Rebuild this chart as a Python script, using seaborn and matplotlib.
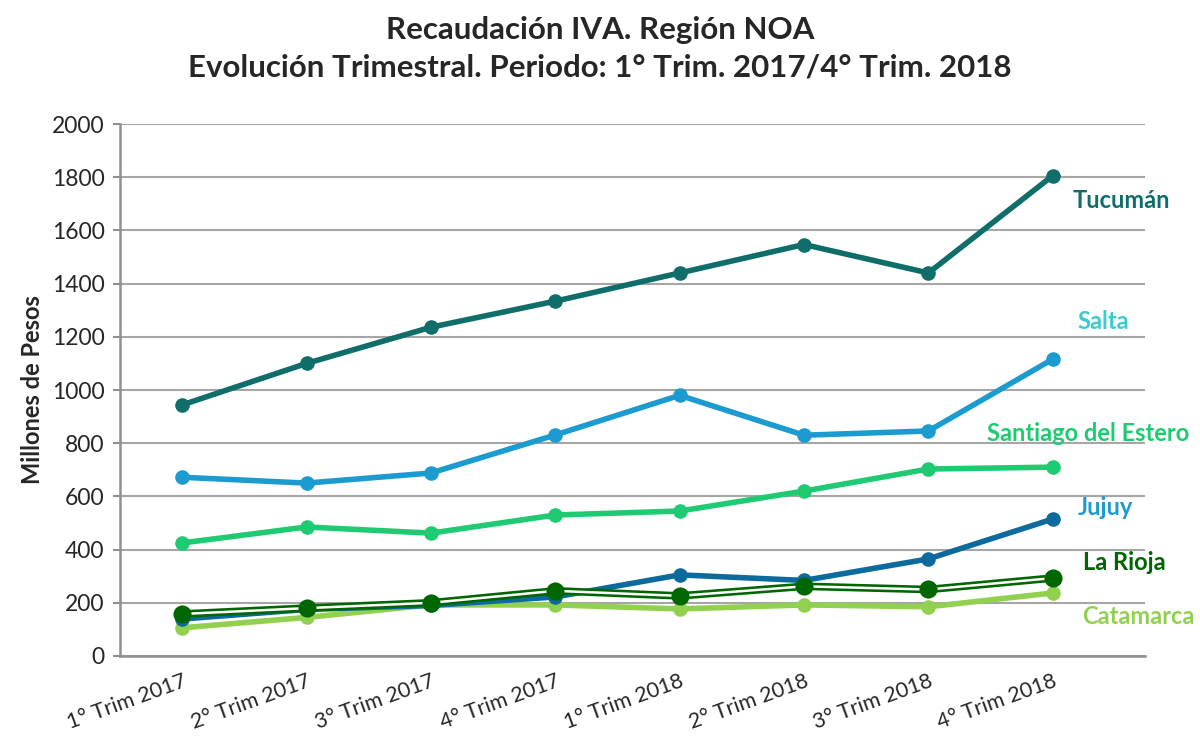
import numpy as np
import pandas as pd
import seaborn as sns
import matplotlib.pyplot as plt

# Data: IVA collection, NOA region, million pesos
quarters = ["1° Trim 2017", "2° Trim 2017", "3° Trim 2017", "4° Trim 2017",
            "1° Trim 2018", "2° Trim 2018", "3° Trim 2018", "4° Trim 2018"]
tucuman = [944, 1100, 1236, 1334, 1440, 1547, 1440, 1806]
salta = [672, 650, 688, 831, 980, 830, 846, 1116]
santiago = [425, 485, 462, 530, 545, 620, 703, 710]
jujuy = [139, 175, 190, 222, 305, 284, 365, 515]
la_rioja = [158, 180, 200, 245, 226, 262, 250, 293]
catamarca = [106, 145, 192, 192, 177, 192, 185, 237]

provinces = ["Tucumán", "Salta", "Santiago del Estero", "Jujuy", "La Rioja", "Catamarca"]
values = [tucuman, salta, santiago, jujuy, la_rioja, catamarca]

line_colors = {"Tucumán": "#0F6E69", "Salta": "#1B9BCF", "Santiago del Estero": "#1FCB72",
               "Jujuy": "#0C6A9C", "La Rioja": "#006600", "Catamarca": "#92D050"}
label_colors = {"Tucumán": "#0F6E69", "Salta": "#3ECBCB", "Santiago del Estero": "#1FCB72",
                "Jujuy": "#1B9BCF", "La Rioja": "#006600", "Catamarca": "#92D050"}
# label placement (x in category units, y in data units)
label_pos = {"Tucumán": (7.16, 1714), "Salta": (7.2, 1256), "Santiago del Estero": (6.47, 838),
             "Jujuy": (7.2, 560), "La Rioja": (7.24, 353), "Catamarca": (7.24, 150)}

df = pd.DataFrame({
    "pos": np.tile(np.arange(len(quarters)), len(provinces)),
    "provincia": np.repeat(provinces, len(quarters)),
    "valor": np.concatenate(values),
})

sns.set_style("white")
plt.rcParams["font.family"] = ["Lato", "DejaVu Sans"]

fig = plt.figure(figsize=(12, 7.36), dpi=100)
ax = fig.add_axes([0.1, 0.1087, 0.854, 0.7228])

zorders = {"Catamarca": 3, "Jujuy": 4, "La Rioja": 5, "Santiago del Estero": 6,
           "Salta": 7, "Tucumán": 8}

for prov in provinces:
    sub = df[df["provincia"] == prov]
    if prov == "La Rioja":
        # double-line look: dark outline with white core
        sns.lineplot(data=sub, x="pos", y="valor", ax=ax, color=line_colors[prov],
                     linewidth=5.5, zorder=zorders[prov])
        sns.lineplot(data=sub, x="pos", y="valor", ax=ax, color="white",
                     linewidth=1.8, zorder=zorders[prov])
        sns.scatterplot(data=sub, x="pos", y="valor", ax=ax, color=line_colors[prov],
                        s=170, linewidth=0, zorder=zorders[prov] + 0.5)
    else:
        sns.lineplot(data=sub, x="pos", y="valor", ax=ax, color=line_colors[prov],
                     linewidth=4, marker="o", markersize=10.5, markeredgewidth=0,
                     zorder=zorders[prov])
    lx, ly = label_pos[prov]
    ax.text(lx, ly, prov, color=label_colors[prov], fontsize=17, fontweight="bold",
            va="center", ha="left")

ax.set_xlim(-0.5, 7.74)
ax.set_ylim(0, 2000)
ax.set_yticks(range(0, 2001, 200))
ax.set_xticks(range(len(quarters)))
ax.set_xticklabels(quarters, rotation=20, ha="right", rotation_mode="anchor")
ax.tick_params(axis="x", labelsize=15.5, length=0, pad=11)
ax.tick_params(axis="y", labelsize=16.5, length=5, width=1.5, color="#909090", left=True, pad=6)
ax.grid(axis="y", color="#A6A6A6", linewidth=1.5)
ax.set_axisbelow(True)
for side in ["top", "right"]:
    ax.spines[side].set_visible(False)
for side in ["left", "bottom"]:
    ax.spines[side].set_color("#909090")
    ax.spines[side].set_linewidth(1.8)

ax.set_xlabel("")
ax.set_ylabel("Millones de Pesos", fontsize=17, fontweight="bold", labelpad=6)

fig.suptitle("Recaudación IVA. Región NOA\nEvolución Trimestral. Periodo: 1° Trim. 2017/4° Trim. 2018",
             x=0.5, y=0.978, fontsize=22.5, fontweight="bold", linespacing=1.4)

fig.savefig("out.png", dpi=100)
